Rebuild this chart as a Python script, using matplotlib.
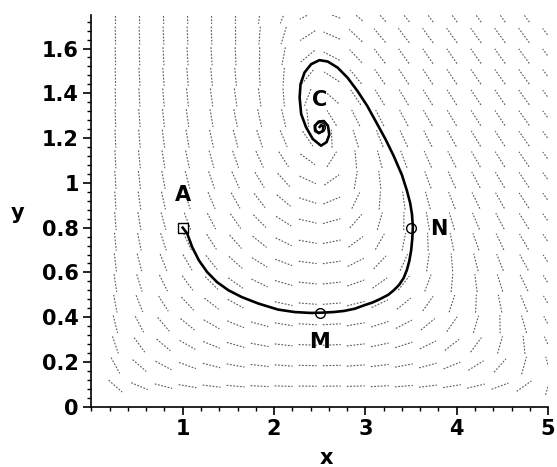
import numpy as np
import matplotlib
matplotlib.use("Agg")
import matplotlib.pyplot as plt
from matplotlib.ticker import MultipleLocator, FixedLocator

# ---- data ----
traj_x = [1.0, 1.05, 1.104, 1.177, 1.267, 1.375, 1.502, 1.646, 1.828, 2.044, 2.226, 2.40,
          2.514, 2.65, 2.768, 2.885, 2.985, 3.08, 3.165, 3.25, 3.31, 3.37, 3.419, 3.455,
          3.48, 3.501, 3.513, 3.52, 3.51, 3.49, 3.454, 3.40, 3.31, 3.22, 3.129, 3.02,
          2.912, 2.804, 2.695, 2.587, 2.497, 2.406, 2.334, 2.29, 2.28, 2.297, 2.351,
          2.424, 2.514, 2.575, 2.605, 2.59, 2.545, 2.49, 2.445, 2.45, 2.49, 2.535,
          2.54, 2.515, 2.5]
traj_y = [0.80, 0.773, 0.713, 0.654, 0.602, 0.557, 0.520, 0.490, 0.461, 0.434, 0.423, 0.419,
          0.420, 0.423, 0.428, 0.438, 0.453, 0.466, 0.482, 0.50, 0.520, 0.545, 0.575, 0.612,
          0.65, 0.698, 0.75, 0.802, 0.86, 0.91, 0.966, 1.035, 1.12, 1.195, 1.263, 1.344,
          1.411, 1.470, 1.515, 1.542, 1.548, 1.530, 1.493, 1.441, 1.381, 1.307, 1.248,
          1.196, 1.166, 1.182, 1.215, 1.255, 1.276, 1.274, 1.255, 1.232, 1.222, 1.232,
          1.252, 1.258, 1.25]

point_labels = ["A", "M", "N", "C"]
point_x = [1.0, 2.5, 3.5, 2.5]
point_y = [0.80, 0.42, 0.80, 1.25]
point_markers = ["s", "o", "o", "o"]

# model parameters of the plotted system (equilibrium C, nullcline through N)
a_par, b_par, e_par, c_par, d_par = 2.375, 1.0, 0.45, 2.5, 1.0

x_ticks = [1, 2, 3, 4, 5]
y_ticks = [0, 0.2, 0.4, 0.6, 0.8, 1, 1.2, 1.4, 1.6]
y_tick_labels = ["0", "0.2", "0.4", "0.6", "0.8", "1", "1.2", "1.4", "1.6"]

# ---- figure ----
fig = plt.figure(figsize=(5.57, 4.67), dpi=100)
ax_rect = [0.164, 0.129, 0.82, 0.839]
ax = fig.add_axes(ax_rect)
xmin, xmax, ymin, ymax = 0, 5, 0, 1.75
ax.set_xlim(xmin, xmax)
ax.set_ylim(ymin, ymax)

# direction field (20x20 grid)
axw = ax_rect[2] * 557
axh = ax_rect[3] * 467
sx = axw / (xmax - xmin)
sy = axh / (ymax - ymin)
seg_px = 18.0
gx = np.linspace(xmin, xmax, 20)
gy = np.linspace(ymin, ymax, 20)
for X in gx:
    for Y in gy:
        u = X * (a_par - e_par * X - b_par * Y)
        v = Y * (d_par * X - c_par)
        pu, pv = u * sx, v * sy
        n = np.hypot(pu, pv)
        if n == 0 or X == 0 or Y == 0:
            continue
        hx = 0.5 * seg_px * pu / n / sx
        hy = 0.5 * seg_px * pv / n / sy
        ax.plot([X - hx, X + hx], [Y - hy, Y + hy], color="#5a5a5a", lw=0.8,
                linestyle=(0, (1.6, 1.4)), clip_on=True, zorder=1)

ax.plot(traj_x, traj_y, color="black", lw=1.9, zorder=3)
for lab, px, py, mk in zip(point_labels, point_x, point_y, point_markers):
    ax.plot(px, py, marker=mk, ms=7, mfc="none", mec="black", mew=1.0, zorder=4)

txt = dict(fontsize=15, fontweight="bold", family="DejaVu Sans", ha="center", va="center")
ax.text(1.0, 0.945, "A", **txt)
ax.text(2.5, 1.37, "C", **txt)
ax.text(3.8, 0.796, "N", **txt)
ax.text(2.5, 0.29, "M", **txt)

for s in ["top", "right"]:
    ax.spines[s].set_visible(False)
for s in ["left", "bottom"]:
    ax.spines[s].set_linewidth(1.2)

ax.xaxis.set_major_locator(FixedLocator(x_ticks))
ax.yaxis.set_major_locator(FixedLocator(y_ticks))
ax.set_yticklabels(y_tick_labels)
ax.xaxis.set_minor_locator(MultipleLocator(0.2))
ax.yaxis.set_minor_locator(MultipleLocator(0.04))
ax.tick_params(which="major", direction="out", length=6, width=1.2, labelsize=15, pad=3)
ax.tick_params(which="minor", direction="out", length=3, width=1.0)
for lbl in ax.get_xticklabels() + ax.get_yticklabels():
    lbl.set_fontweight("bold")
    lbl.set_family("DejaVu Sans")

fig.text(326 / 557, 1 - 458 / 467, "x", fontsize=15, fontweight="bold", ha="center", va="center")
fig.text(18 / 557, 1 - 213 / 467, "y", fontsize=15, fontweight="bold", ha="center", va="center")

fig.savefig("out.png", dpi=100)
